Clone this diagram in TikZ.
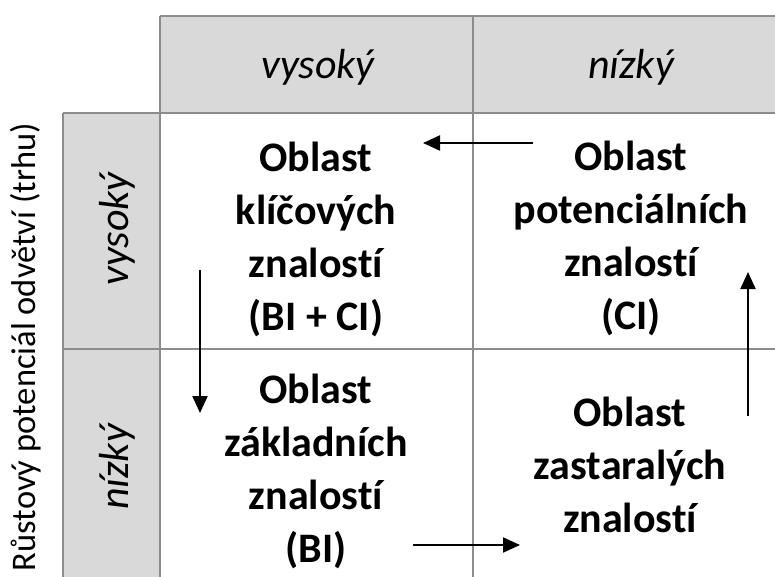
\documentclass[tikz,border=0pt]{standalone}
\usepackage{fontspec}
\setmainfont{Carlito}[Ligatures=NoCommon]
\usepackage{tikz}
\usetikzlibrary{arrows.meta,positioning,calc}
\definecolor{HeadGray}{HTML}{D9D9D9}
\definecolor{GridGray}{HTML}{8C8C8C}

\begin{document}
\begin{tikzpicture}[
  x=1pt,y=-1pt,
  >={Triangle[length=17pt,width=15pt]},
  head/.style={fill=HeadGray, draw=none},
  grid/.style={draw=GridGray, line width=2pt},
  cell/.style={align=center, inner sep=0pt, font=\fontsize{42}{53}\selectfont\bfseries},
  headtext/.style={inner sep=0pt, anchor=base, font=\fontsize{42}{50}\selectfont\itshape},
  sidetext/.style={inner sep=0pt, anchor=base, rotate=90, font=\fontsize{34.5}{40}\selectfont},
  flow/.style={->, line width=2.2pt, draw=black}
]
\useasboundingbox (0,0) rectangle (775,577);

% header backgrounds
\fill[head] (160,16) rectangle (780,113);
\fill[head] (63,113) rectangle (160,580);

% grid lines
\draw[grid] (160,16) -- (780,16);
\draw[grid] (63,113) -- (780,113);
\draw[grid] (63,349) -- (780,349);
\draw[grid] (63,113) -- (63,580);
\draw[grid] (160,16) -- (160,580);
\draw[grid] (473,16) -- (473,580);

% axis headers
\node[headtext] (colhigh) at (318,79) {vysoký};
\node[headtext] (collow) at (631,79) {nízký};
\node[headtext, rotate=90] (rowhigh) at (128,229) {vysoký};
\node[headtext, rotate=90] (rowlow) at (128,467) {nízký};
\node[sidetext] (axis) at (35,347) {Růstový potenciál odvětví (trhu)};

% quadrants
\node[cell] (key) at (316,239) {Oblast\\klíčových\\znalostí\\(BI + CI)};
\node[cell] (pot) at (631,238) {Oblast\\potenciálních\\znalostí\\(CI)};
\node[cell] (base) at (316,471) {Oblast\\základních\\znalostí\\(BI)};
\node[cell] (old) at (630,465) {Oblast\\zastaralých\\znalostí};

% flow between quadrants
\coordinate (potL) at (533,143);
\coordinate (keyR) at (423,143);
\coordinate (keyD) at (200,270);
\coordinate (baseU) at (200,413);
\coordinate (baseR) at (413,545);
\coordinate (oldL) at (520,545);
\coordinate (oldU) at (748,416);
\coordinate (potD) at (748,272);

\draw[flow] (potL) -- (keyR);
\draw[flow] (keyD) -- (baseU);
\draw[flow] (baseR) -- (oldL);
\draw[flow] (oldU) -- (potD);

\end{tikzpicture}
\end{document}
